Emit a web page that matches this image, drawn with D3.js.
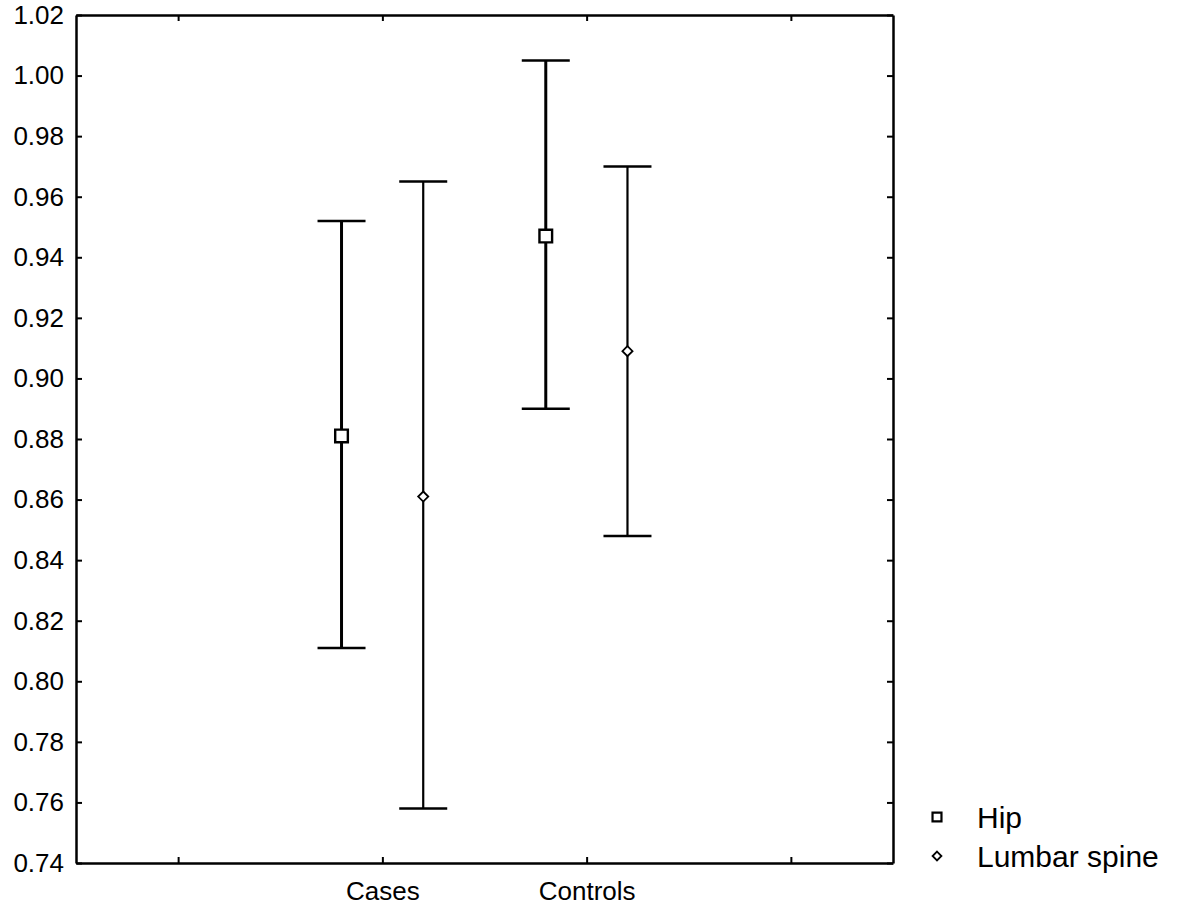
<!DOCTYPE html>
<html>
<head>
<meta charset="utf-8">
<script src="https://cdn.jsdelivr.net/npm/d3@7"></script>
<style>
  body { margin: 0; background: #fff; }
  text { font-family: "Liberation Sans", Arial, sans-serif; fill: #000; }
</style>
</head>
<body>
<div id="chart"></div>
<script>
// x slots: empty slots at both ends, the two groups in the middle
const xSlots = ["", "Cases", "Controls", " "];
const categories = ["Cases", "Controls"];
const seriesNames = ["Hip", "Lumbar spine"];

const hipMean = [0.881, 0.947];
const hipLow = [0.811, 0.890];
const hipHigh = [0.952, 1.005];

const spineMean = [0.861, 0.909];
const spineLow = [0.758, 0.848];
const spineHigh = [0.965, 0.970];

const yTicks = [0.74, 0.76, 0.78, 0.80, 0.82, 0.84, 0.86, 0.88, 0.90, 0.92, 0.94, 0.96, 0.98, 1.00, 1.02];

const margin = ({top: 15, right: 288, bottom: 46, left: 76});
const width = 1181 - margin.left - margin.right,
    height = 909 - margin.top - margin.bottom;

const svg = d3.select("#chart").append("svg")
    .attr("width", width + margin.left + margin.right)
    .attr("height", height + margin.top + margin.bottom)
  .append("g")
    .attr("transform", "translate(" + margin.left + "," + margin.top + ")");

const xScale = d3.scalePoint()
    .domain(xSlots)
    .range([0, width])
    .padding(0.5);

const yScale = d3.scaleLinear()
    .domain([0.74, 1.02])
    .range([height, 0]);

const offset = xScale.step() * 0.2;

// axes, ticks pointing inside the frame
const yAxis = d3.axisLeft(yScale)
    .tickValues(yTicks)
    .tickFormat(d3.format(".2f"))
    .tickSizeInner(-6)
    .tickSizeOuter(0)
    .tickPadding(12);

const xAxis = d3.axisBottom(xScale)
    .tickFormat(d => d.trim())
    .tickSizeInner(-6)
    .tickSizeOuter(0)
    .tickPadding(19);

svg.append("g")
    .attr("class", "axis y-axis")
    .call(yAxis);

svg.append("g")
    .attr("class", "axis y-axis-right")
    .attr("transform", `translate(${width},0)`)
    .call(d3.axisRight(yScale).tickValues(yTicks).tickFormat("").tickSizeInner(-6).tickSizeOuter(0));

svg.append("g")
    .attr("class", "axis x-axis")
    .attr("transform", `translate(0,${height})`)
    .call(xAxis);

svg.append("g")
    .attr("class", "axis x-axis-top")
    .call(d3.axisTop(xScale).tickFormat("").tickSizeInner(-6).tickSizeOuter(0));

svg.selectAll(".axis path").attr("stroke", "#000").attr("stroke-width", 2.5);
svg.selectAll(".axis line").attr("stroke", "#000").attr("stroke-width", 2);
svg.selectAll(".axis text").style("font-size", "26px");

// build rows for error bars
const rows = [];
categories.forEach((c, i) => {
    rows.push({cat: c, series: "Hip", mean: hipMean[i], low: hipLow[i], high: hipHigh[i], dx: -offset});
    rows.push({cat: c, series: "Lumbar spine", mean: spineMean[i], low: spineLow[i], high: spineHigh[i], dx: offset});
});

const capHalf = 24;

const bars = svg.selectAll(".errbar")
    .data(rows)
    .enter().append("g")
    .attr("class", "errbar")
    .attr("transform", d => `translate(${xScale(d.cat) + d.dx},0)`);

bars.append("line")
    .attr("x1", 0).attr("x2", 0)
    .attr("y1", d => yScale(d.low))
    .attr("y2", d => yScale(d.high))
    .attr("stroke", "#000")
    .attr("stroke-width", d => d.series == "Hip" ? 3 : 2.2);

bars.append("line")
    .attr("x1", -capHalf).attr("x2", capHalf)
    .attr("y1", d => yScale(d.high))
    .attr("y2", d => yScale(d.high))
    .attr("stroke", "#000")
    .attr("stroke-width", 2.5);

bars.append("line")
    .attr("x1", -capHalf).attr("x2", capHalf)
    .attr("y1", d => yScale(d.low))
    .attr("y2", d => yScale(d.low))
    .attr("stroke", "#000")
    .attr("stroke-width", 2.5);

const square = d3.symbol().type(d3.symbolSquare).size(160);
const diamond = d3.symbol().type(d3.symbolDiamond2).size(65);

bars.append("path")
    .attr("transform", d => `translate(0,${yScale(d.mean)})`)
    .attr("d", d => d.series == "Hip" ? square() : diamond())
    .attr("fill", "#fff")
    .attr("stroke", "#000")
    .attr("stroke-width", d => d.series == "Hip" ? 2.4 : 1.8);

// legend
const legend = svg.append("g")
    .attr("class", "legend")
    .attr("transform", `translate(${width + 44},${height - 46})`);

const legendSquare = d3.symbol().type(d3.symbolSquare).size(80);
const legendDiamond = d3.symbol().type(d3.symbolDiamond2).size(50);

const items = legend.selectAll(".item")
    .data(seriesNames)
    .enter().append("g")
    .attr("class", "item")
    .attr("transform", (d, i) => `translate(0,${i * 39})`);

items.append("path")
    .attr("d", (d, i) => i == 0 ? legendSquare() : legendDiamond())
    .attr("fill", "#fff")
    .attr("stroke", "#000")
    .attr("stroke-width", (d, i) => i == 0 ? 2.2 : 1.8);

items.append("text")
    .attr("x", 40)
    .attr("dy", "0.36em")
    .style("font-size", "30px")
    .text(d => d);
</script>
</body>
</html>
